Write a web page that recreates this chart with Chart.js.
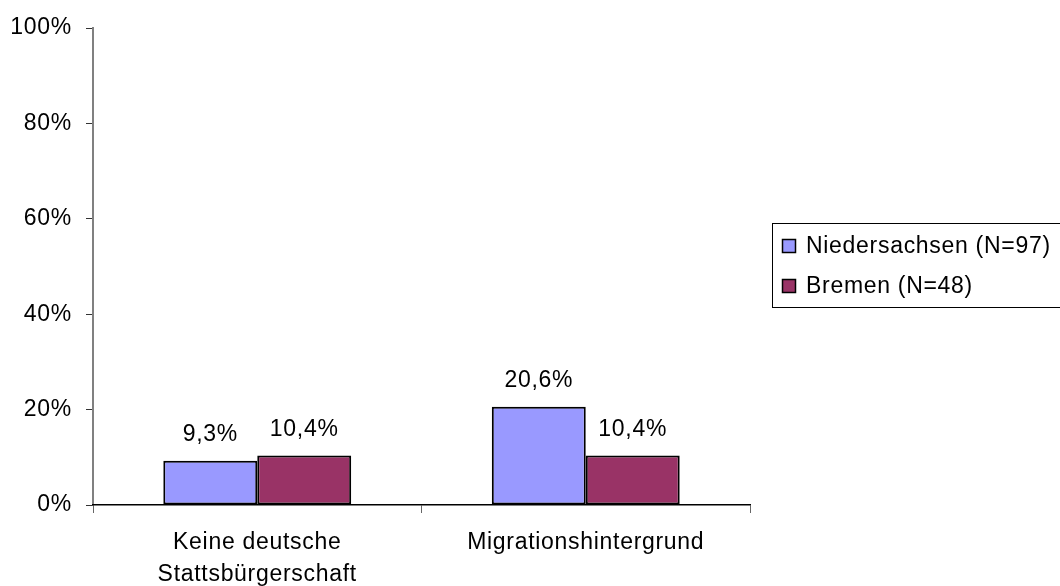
<!DOCTYPE html>
<html>
<head>
<meta charset="utf-8">
<script src="https://cdn.jsdelivr.net/npm/chart.js@4/dist/chart.umd.min.js"></script>
<style>
  html, body { margin: 0; padding: 0; background: #fff; overflow: hidden; }
  #wrap { width: 1060px; height: 586px; }
</style>
</head>
<body>
<div id="wrap"><canvas id="chart"></canvas></div>
<script>
var categories = [["Keine deutsche", "Stattsbürgerschaft"], "Migrationshintergrund"]
var seriesNames = ["Niedersachsen (N=97)", "Bremen (N=48)"]
var niedersachsen = [9.3, 20.6]
var bremen = [10.4, 10.4]
var yTicks = [0, 20, 40, 60, 80, 100]

var font = "'Liberation Sans', Arial, sans-serif"

function pct(v){
  return v.toFixed(1).replace(".", ",") + "%"
}

// slightly wider text spacing for everything on the canvas
var spacing = {
  id: "spacing",
  beforeDraw: function(chart){
    if ("letterSpacing" in chart.ctx) chart.ctx.letterSpacing = "0.7px"
  }
}

// value labels above each bar
var valueLabels = {
  id: "valueLabels",
  afterDatasetsDraw: function(chart){
    var ctx = chart.ctx
    ctx.save()
    ctx.font = "23px " + font
    ctx.fillStyle = "#000"
    ctx.textAlign = "center"
    ctx.textBaseline = "alphabetic"
    chart.data.datasets.forEach(function(ds, i){
      chart.getDatasetMeta(i).data.forEach(function(bar, j){
        ctx.fillText(pct(ds.data[j]), bar.x, bar.y - 19.5)
      })
    })
    ctx.restore()
  }
}

// boxed legend on the right
var boxLegend = {
  id: "boxLegend",
  afterDraw: function(chart){
    var ctx = chart.ctx
    ctx.save()
    ctx.strokeStyle = "#000"
    ctx.lineWidth = 1
    ctx.strokeRect(772.5, 223.5, 320, 84)
    ctx.font = "23px " + font
    ctx.textBaseline = "middle"
    ctx.textAlign = "left"
    var rows = [246, 286]
    chart.data.datasets.forEach(function(ds, i){
      ctx.fillStyle = ds.backgroundColor
      ctx.fillRect(782.5, rows[i] - 6.5, 13, 13)
      ctx.lineWidth = 1.5
      ctx.strokeRect(782.5, rows[i] - 6.5, 13, 13)
      ctx.fillStyle = "#000"
      ctx.fillText(ds.label, 806, rows[i] + 1)
    })
    ctx.restore()
  }
}

var ctx = document.getElementById("chart")
var chart = new Chart(ctx, {
  type: "bar",
  data: {
    labels: categories,
    datasets: [{
      label: seriesNames[0],
      data: niedersachsen,
      backgroundColor: "#9999FF",
      borderColor: "#000",
      borderWidth: 2,
      borderSkipped: false,
      categoryPercentage: 0.572,
      barPercentage: 1
    }, {
      label: seriesNames[1],
      data: bremen,
      backgroundColor: "#993366",
      borderColor: "#000",
      borderWidth: 2,
      borderSkipped: false,
      categoryPercentage: 0.572,
      barPercentage: 1
    }]
  },
  options: {
    responsive: true,
    maintainAspectRatio: false,
    animation: false,
    layout: { padding: { top: 28, right: 310, left: 0, bottom: 0 } },
    plugins: {
      legend: { display: false },
      tooltip: { enabled: false }
    },
    scales: {
      y: {
        min: 0,
        max: 100,
        afterBuildTicks: function(scale){
          scale.ticks = yTicks.map(function(v){ return { value: v } })
        },
        afterFit: function(scale){ scale.width = 93 },
        border: { color: "#808080", width: 2 },
        grid: { drawOnChartArea: false, tickLength: 7, color: "#333" },
        ticks: {
          padding: 14,
          color: "#000",
          font: { family: font, size: 23 },
          callback: function(v){ return v + "%" }
        }
      },
      x: {
        afterFit: function(scale){ scale.height = 81 },
        border: { color: "#000", width: 1.5 },
        grid: { drawOnChartArea: false, tickLength: 8, color: "#666", offset: true },
        ticks: {
          padding: 14,
          color: "#000",
          maxRotation: 0,
          font: { family: font, size: 23, lineHeight: 1.38 }
        }
      }
    }
  },
  plugins: [spacing, valueLabels, boxLegend]
})
</script>
</body>
</html>
